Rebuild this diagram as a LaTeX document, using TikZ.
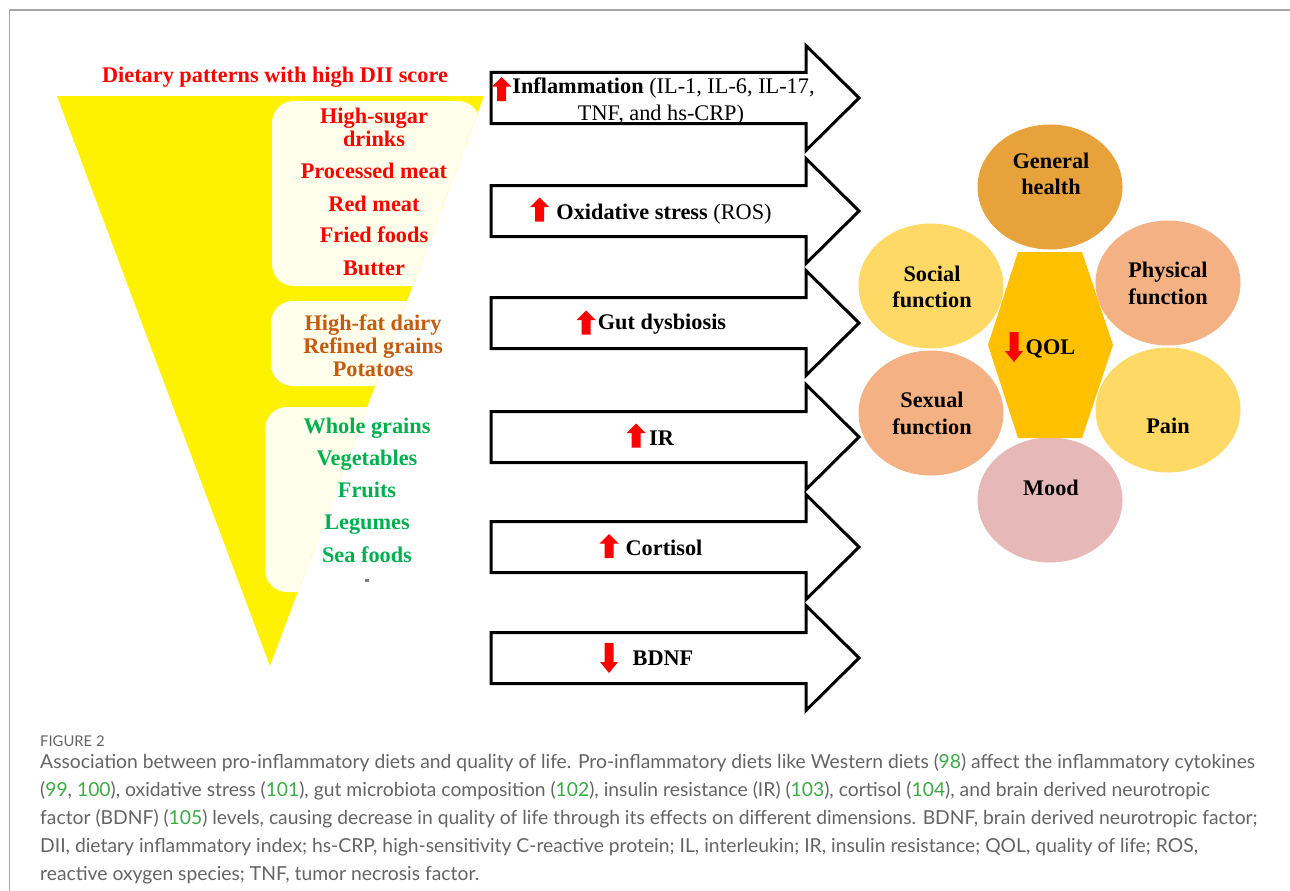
\documentclass[tikz,border=0pt]{standalone}
\usepackage{fontspec}
\setmainfont{Liberation Serif}
\newfontfamily\capfont{Lato}
\usetikzlibrary{shapes.geometric}
\definecolor{cream}{RGB}{255,255,235}
\definecolor{foodred}{RGB}{255,0,0}
\definecolor{foodorange}{RGB}{197,90,17}
\definecolor{foodgreen}{RGB}{0,176,80}
\definecolor{genhealth}{RGB}{232,162,60}
\definecolor{lightgold}{RGB}{255,217,102}
\definecolor{peach}{RGB}{244,177,131}
\definecolor{rosy}{RGB}{230,185,184}
\definecolor{hexgold}{RGB}{255,192,0}
\definecolor{capgrey}{RGB}{100,100,100}
\definecolor{refgreen}{RGB}{60,170,70}
\definecolor{framegrey}{RGB}{165,165,165}
\newcommand{\rf}[1]{\textcolor{refgreen}{#1}}
\begin{document}
\begin{tikzpicture}[x=1pt,y=-1pt,
  bt/.style={font=\fontsize{22.3}{24}\selectfont\bfseries, inner sep=0pt, anchor=base},
  blockarrow/.style={draw=black, line width=3pt, fill=white, line join=miter},
  dim/.style={ellipse, minimum width=145pt, minimum height=125pt, inner sep=0pt},
  captxt/.style={font=\capfont\fontsize{19.3}{22}\selectfont, text=capgrey, inner sep=0pt, anchor=base west},
  redup/.pic={\fill[red] (-4.5,12) -- (-4.5,-2.5) -- (-9.5,-2.5) -- (0,-12) -- (9.5,-2.5) -- (4.5,-2.5) -- (4.5,12) -- cycle;},
  reddown/.pic={\fill[red] (-4.5,-15) -- (-4.5,4) -- (-9,4) -- (0,15) -- (9,4) -- (4.5,4) -- (4.5,-15) -- cycle;},
]
\useasboundingbox (0,0) rectangle (1290,891);
% frame
\draw[framegrey, line width=1.5pt] (9.5,891) -- (9.5,10) -- (1290,10);

% funnel
\coordinate (tl) at (57,96);
\coordinate (tr) at (484,96);
\coordinate (apex) at (270,666);
\fill[yellow] (tl) -- (tr) -- (apex) -- cycle;
\begin{scope}
  \clip (tl) -- (tr) -- (apex) -- cycle;
  \fill[cream, rounded corners=22pt] (272,101) rectangle (480,286);
  \fill[cream, rounded corners=22pt] (271,301) rectangle (480,386);
  \fill[cream, rounded corners=22pt] (265,407) rectangle (480,592);
\end{scope}
\fill[gray] (365,578.5) rectangle (369,581.5);

\node[bt, text=foodred] (title) at (275,82) {Dietary patterns with high DII score};

\node[bt, text=foodred] (f1a) at (374,123) {High-sugar};
\node[bt, text=foodred] (f1b) at (374,146) {drinks};
\node[bt, text=foodred] (f2) at (374,178) {Processed meat};
\node[bt, text=foodred] (f3) at (374,211) {Red meat};
\node[bt, text=foodred] (f4) at (374,242) {Fried foods};
\node[bt, text=foodred] (f5) at (374,275) {Butter};

\node[bt, text=foodorange] (m1) at (373,330) {High-fat dairy};
\node[bt, text=foodorange] (m2) at (373,353) {Refined grains};
\node[bt, text=foodorange] (m3) at (373,376) {Potatoes};

\node[bt, text=foodgreen] (g1) at (367,433) {Whole grains};
\node[bt, text=foodgreen] (g2) at (367,465) {Vegetables};
\node[bt, text=foodgreen] (g3) at (367,497) {Fruits};
\node[bt, text=foodgreen] (g4) at (367,529) {Legumes};
\node[bt, text=foodgreen] (g5) at (367,562) {Sea foods};

% block arrows
\foreach \c in {98,211,323,437,547,658} {
  \draw[blockarrow] (491,\c-25.5) -- (806,\c-25.5) -- (806,\c-52.5) -- (859,\c) -- (806,\c+52.5) -- (806,\c+25.5) -- (491,\c+25.5) -- cycle;
}

\pic at (501.5,89) {redup};
\node[bt] (a1a) at (663.5,93) {Inflammation \mdseries(IL-1, IL-6, IL-17,};
\node[bt, font=\fontsize{22.3}{24}\selectfont] (a1b) at (661,120) {TNF, and hs-CRP)};
\pic at (539.5,209.5) {redup};
\node[bt] (a2) at (664,219) {Oxidative stress \mdseries(ROS)};
\pic at (586,322.5) {redup};
\node[bt] (a3) at (662,329) {Gut dysbiosis};
\pic at (636,435.5) {redup};
\node[bt] (a4) at (661.5,445) {IR};
\pic at (609,546) {redup};
\node[bt] (a5) at (664,555) {Cortisol};
\pic at (609,658) {reddown};
\node[bt] (a6) at (663,665) {BDNF};

% QOL dimensions
\node[dim, fill=genhealth] (gh) at (1050,187) {};
\node[dim, fill=lightgold] (sf) at (931,286) {};
\node[dim, fill=peach] (pf) at (1168,283) {};
\node[dim, fill=peach] (sx) at (931,413) {};
\node[dim, fill=lightgold] (pn) at (1168,410) {};
\node[dim, fill=rosy] (md) at (1050,500) {};
\fill[hexgold] (1018,252) -- (1082,252) -- (1113,345) -- (1082,438) -- (1018,438) -- (988,345) -- cycle;

\node[bt] (gh1) at (1051,168) {General};
\node[bt] (gh2) at (1051,194) {health};
\node[bt] (sf1) at (932,281) {Social};
\node[bt] (sf2) at (932,307) {function};
\node[bt] (pf1) at (1168,277) {Physical};
\node[bt] (pf2) at (1168,304) {function};
\node[bt] (sx1) at (932,407) {Sexual};
\node[bt] (sx2) at (932,434) {function};
\node[bt] (pn1) at (1168,433) {Pain};
\node[bt] (md1) at (1051,495) {Mood};
\pic at (1014,347) {reddown};
\node[bt] (qol) at (1050.5,354) {QOL};

% caption
\node[captxt, font=\capfont\fontsize{14.8}{16}\selectfont, text=capgrey] (fig) at (40,746) {FIGURE 2};
\node[captxt] (c1) at (40,768) {Association between pro-inflammatory diets and quality of life. Pro-inflammatory diets like Western diets (\rf{98}) affect the inflammatory cytokines};
\node[captxt] (c2) at (40,796) {(\rf{99}, \rf{100}), oxidative stress (\rf{101}), gut microbiota composition (\rf{102}), insulin resistance (IR) (\rf{103}), cortisol (\rf{104}), and brain derived neurotropic};
\node[captxt] (c3) at (40,824) {factor (BDNF) (\rf{105}) levels, causing decrease in quality of life through its effects on different dimensions. BDNF, brain derived neurotropic factor;};
\node[captxt] (c4) at (40,852) {DII, dietary inflammatory index; hs-CRP, high-sensitivity C-reactive protein; IL, interleukin; IR, insulin resistance; QOL, quality of life; ROS,};
\node[captxt] (c5) at (40,880) {reactive oxygen species; TNF, tumor necrosis factor.};
\end{tikzpicture}
\end{document}
